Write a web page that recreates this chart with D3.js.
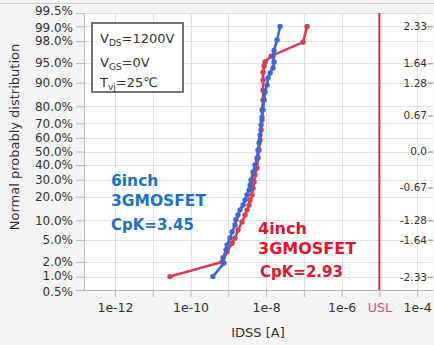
<!DOCTYPE html>
<html><head><meta charset="utf-8">
<script src="https://cdn.jsdelivr.net/npm/d3@7"></script>
<style>
html,body{margin:0;padding:0;background:#f4f4f4;}
svg{display:block;font-family:"DejaVu Sans",Verdana,sans-serif;}
</style></head>
<body>
<svg id="c" width="434" height="345"></svg>
<script>
// ---- data ----
const series6inchIdss = [3.9e-10,7.7e-10,7.3e-10,8.7e-10,9.3e-10,1.11e-9,1.26e-9,1.51e-9,1.60e-9,1.81e-9,2.05e-9,2.46e-9,2.78e-9,3.14e-9,3.55e-9,3.77e-9,4.01e-9,4.53e-9,5.12e-9,5.78e-9,6.14e-9,6.53e-9,6.94e-9,7.38e-9,7.84e-9,8.33e-9,8.85e-9,9.41e-9,1.06e-8,1.13e-8,1.28e-8,1.53e-8,1.63e-8,1.53e-8,1.63e-8,1.96e-8,2.35e-8];
const series6inchPct  = [1.0,1.9,2.4,3.4,4.1,5.4,6.7,8.6,10.2,11.9,13.9,16.0,18.4,20.9,23.7,26.7,29.8,35.2,40.1,45.2,51.1,56.3,62.0,68.9,73.9,78.0,83.1,86.6,89.2,91.4,92.8,94.0,95.2,96.2,97.0,98.1,99.0];
const series4inchIdss = [2.86e-11,6.83e-10,9.3e-10,1.26e-9,1.51e-9,1.81e-9,2.31e-9,2.78e-9,3.14e-9,3.55e-9,3.77e-9,4.26e-9,4.53e-9,4.81e-9,5.12e-9,5.78e-9,6.14e-9,6.53e-9,6.94e-9,7.38e-9,7.84e-9,7.84e-9,8.33e-9,8.33e-9,8.33e-9,8.33e-9,8.85e-9,9.41e-9,1.36e-8,9.55e-8,1.22e-7];
const series4inchPct  = [1.0,2.0,3.1,4.4,5.4,7.2,9.5,11.9,13.9,16.0,18.4,20.9,24.9,28.5,33.1,37.9,45.2,51.1,58.5,65.5,72.1,78.0,83.1,87.3,90.8,93.0,94.4,95.2,96.2,97.9,99.0];
const leftTicksPct = [0.5,1,2,5,10,20,30,40,50,60,70,80,90,95,98,99,99.5];
const rightTicksZ = [2.33,1.64,1.28,0.67,0.0,-0.67,-1.28,-1.64,-2.33];
const rightTickLabels = ["2.33","1.64","1.28","0.67","0.0","-0.67","-1.28","-1.64","-2.33"];
const xDecades = [1e-12,1e-11,1e-10,1e-9,1e-8,1e-7,1e-6,1e-5,1e-4];
const xDecadeLabels = ["1e-12","","1e-10","","1e-8","","1e-6","USL","1e-4"];
const uslValue = 1e-5;
const xDomain = [Math.pow(10,-12.82), Math.pow(10,-3.58)];
const yDomainZ = [-2.576, 2.576];

// inverse normal CDF (Acklam)
function probit(p){
  const a=[-3.969683028665376e+01,2.209460984245205e+02,-2.759285104469687e+02,1.383577518672690e+02,-3.066479806614716e+01,2.506628277459239e+00];
  const b=[-5.447609879822406e+01,1.615858368580409e+02,-1.556989798598866e+02,6.680131188771972e+01,-1.328068155288572e+01];
  const c=[-7.784894002430293e-03,-3.223964580411365e-01,-2.400758277161838e+00,-2.549732539343734e+00,4.374664141464968e+00,2.938163982698783e+00];
  const d=[7.784695709041462e-03,3.224671290700398e-01,2.445134137142996e+00,3.754408661907416e+00];
  const pl=0.02425, ph=1-pl; let q,r;
  if(p<pl){q=Math.sqrt(-2*Math.log(p));return (((((c[0]*q+c[1])*q+c[2])*q+c[3])*q+c[4])*q+c[5])/((((d[0]*q+d[1])*q+d[2])*q+d[3])*q+1);}
  if(p<=ph){q=p-0.5;r=q*q;return (((((a[0]*r+a[1])*r+a[2])*r+a[3])*r+a[4])*r+a[5])*q/(((((b[0]*r+b[1])*r+b[2])*r+b[3])*r+b[4])*r+1);}
  q=Math.sqrt(-2*Math.log(1-p));return -(((((c[0]*q+c[1])*q+c[2])*q+c[3])*q+c[4])*q+c[5])/((((d[0]*q+d[1])*q+d[2])*q+d[3])*q+1);
}

const svg = d3.select("#c");
const L=84, R=433, T=13, B=290;
const x = d3.scaleLog().domain(xDomain).range([L,R]);
const yz = d3.scaleLinear().domain(yDomainZ).range([B,T]);
const yp = pct => yz(probit(pct/100));

// frame top line
svg.append("line").attr("x1",0).attr("x2",434).attr("y1",3.5).attr("y2",3.5).attr("stroke","#d0d0d0").attr("stroke-width",1);
// plot background
svg.append("rect").attr("x",L).attr("y",T).attr("width",R-L).attr("height",B-T).attr("fill","#ffffff");

// grid
const g = svg.append("g");
g.selectAll(".hg").data(leftTicksPct).join("line")
  .attr("x1",L).attr("x2",R).attr("y1",d=>Math.round(yp(d))+0.5).attr("y2",d=>Math.round(yp(d))+0.5)
  .attr("stroke","#e2e2e2").attr("stroke-width",1);
g.selectAll(".vg").data(xDecades).join("line")
  .attr("x1",d=>Math.round(x(d))+0.5).attr("x2",d=>Math.round(x(d))+0.5).attr("y1",T).attr("y2",B)
  .attr("stroke","#e2e2e2").attr("stroke-width",1);

// left axis
const leftAxis = d3.axisLeft(yz).tickValues(leftTicksPct.map(p=>probit(p/100)))
  .tickFormat((d,i)=>leftTicksPct[i].toFixed(1)+"%").tickSize(8).tickSizeOuter(0).tickPadding(3);
const gl = svg.append("g").attr("transform",`translate(${L},0)`).call(leftAxis);
gl.selectAll("text").attr("font-size",12).attr("fill","#333").attr("font-family","DejaVu Sans, sans-serif");
gl.selectAll("line,path").attr("stroke","#b8b8b8");
gl.selectAll("text").each(function(){
  const t=d3.select(this), s=t.text();
  if(s==="99.5%") t.attr("dy","0.1em");
  if(s==="99.0%") t.attr("dy","0.4em");
  if(s==="0.5%") t.attr("dy","0.45em");
  if(s==="1.0%") t.attr("dy","0.25em");
});

// bottom axis
const bottomAxis = d3.axisBottom(x).tickValues(xDecades)
  .tickFormat((d,i)=>xDecadeLabels[i]).tickSize(7).tickSizeOuter(0).tickPadding(6);
const gb = svg.append("g").attr("transform",`translate(0,${B})`).call(bottomAxis);
gb.selectAll("text").attr("font-size",12.5).attr("fill","#333").attr("font-family","DejaVu Sans, sans-serif");
gb.selectAll("line,path").attr("stroke","#b8b8b8");
gb.selectAll("text").filter(function(){return d3.select(this).text()==="USL";}).attr("fill","#d4506d");

// right axis
const rightAxis = d3.axisLeft(yz).tickValues(rightTicksZ).tickFormat((d,i)=>rightTickLabels[i]).tickSize(5).tickSizeOuter(0).tickPadding(1);
const gr = svg.append("g").attr("transform",`translate(${R},0)`).call(rightAxis);
gr.selectAll("text").attr("font-size",10.5).attr("fill","#333").attr("font-family","DejaVu Sans, sans-serif");
gr.select("path").remove();
gr.selectAll("line").attr("stroke","#888");

// USL line
svg.append("line").attr("x1",x(uslValue)).attr("x2",x(uslValue)).attr("y1",T).attr("y2",B)
  .attr("stroke","#d6304f").attr("stroke-width",2);

// series
function drawSeries(idss,pct,color){
  const pts = idss.map((v,i)=>[x(v),yp(pct[i])]);
  svg.append("path").attr("d",d3.line()(pts)).attr("fill","none").attr("stroke",color).attr("stroke-width",2.6).attr("stroke-linejoin","round");
  svg.append("g").selectAll("circle").data(pts).join("circle").attr("cx",d=>d[0]).attr("cy",d=>d[1]).attr("r",2.7).attr("fill",color);
}
drawSeries(series4inchIdss,series4inchPct,"#d6404f");
drawSeries(series6inchIdss,series6inchPct,"#3f66d9");

// condition box
svg.append("rect").attr("x",92).attr("y",23).attr("width",91).attr("height",69).attr("fill","#fff").attr("stroke","#444").attr("stroke-width",1.5);
const cond = [["V","DS","=1200V",43],["V","GS","=0V",67],["T","vj","=25℃",87]];
cond.forEach(c=>{
  const t = svg.append("text").attr("x",100).attr("y",c[3]).attr("font-size",13).attr("fill","#333");
  t.append("tspan").text(c[0]);
  t.append("tspan").attr("font-size",9).attr("dy",3).text(c[1]);
  t.append("tspan").attr("dy",-3).text(c[2]);
});

// annotations
const blueLab = [["6inch",186,15.5],["3GMOSFET",206,15.5],["CpK=3.45",230,15]];
blueLab.forEach(l=>svg.append("text").attr("x",111).attr("y",l[1]).attr("font-size",l[2]).attr("font-weight","bold").attr("fill","#1b72c8").text(l[0]));
const redLab = [["4inch",234,258,16],["3GMOSFET",254,258,16],["CpK=2.93",277,260,15]];
redLab.forEach(l=>svg.append("text").attr("x",l[2]).attr("y",l[1]).attr("font-size",l[3]).attr("font-weight","bold").attr("fill","#e8132c").text(l[0]));

// axis titles
svg.append("text").attr("x",258).attr("y",337).attr("text-anchor","middle").attr("font-size",13).attr("fill","#333").text("IDSS [A]");
svg.append("text").attr("transform","translate(19,137) rotate(-90)").attr("text-anchor","middle").attr("font-size",13).attr("fill","#333").text("Normal probably distribution");
</script>
</body></html>
